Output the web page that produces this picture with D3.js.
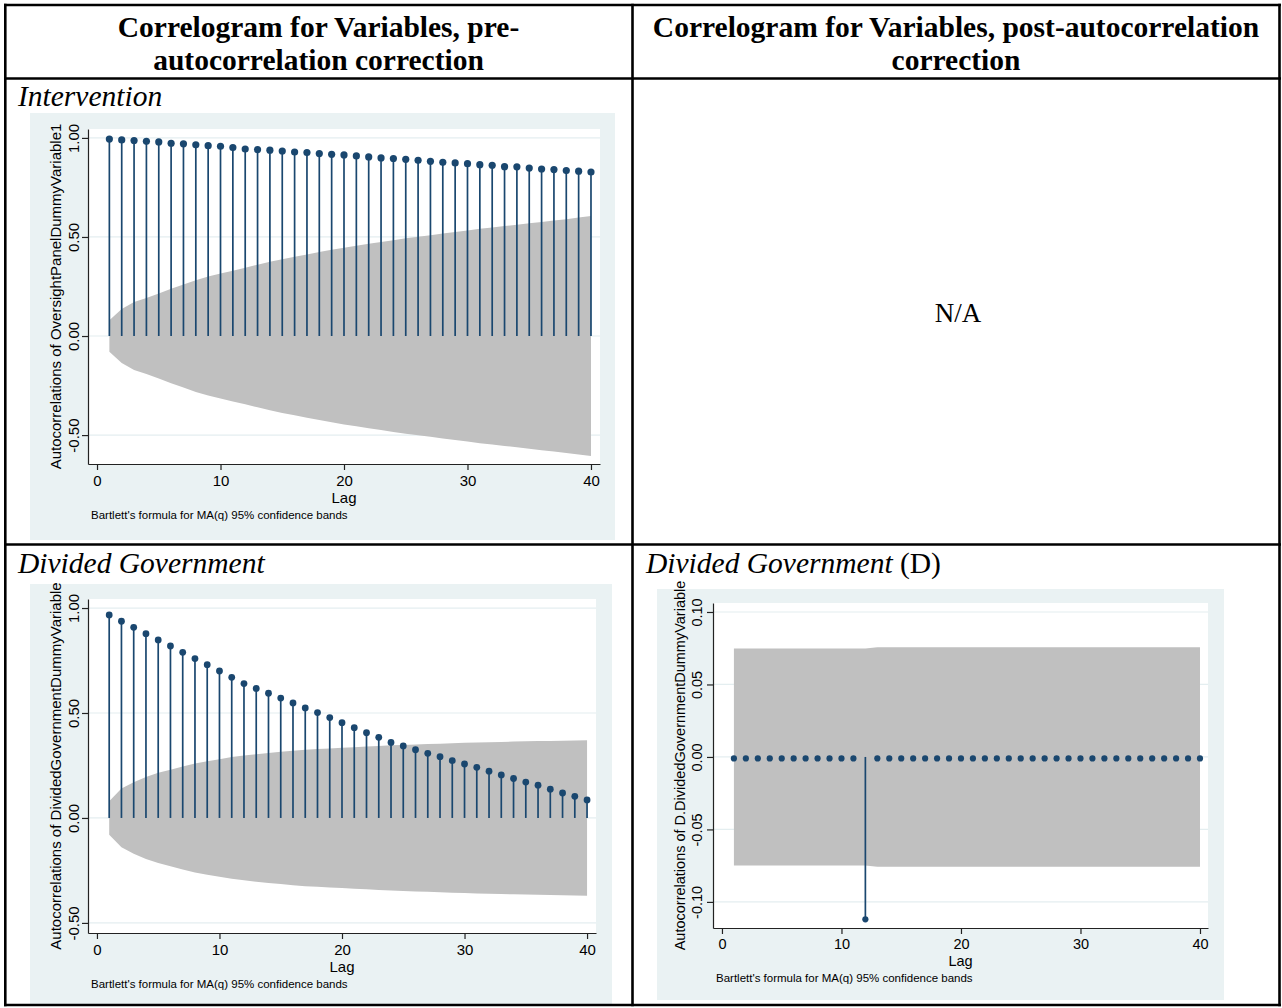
<!DOCTYPE html>
<html>
<head>
<meta charset="utf-8">
<script src="https://cdn.jsdelivr.net/npm/d3@7"></script>
<style>
  body { margin: 0; background: #fff; }
</style>
</head>
<body>
<script>
// lags shown on every correlogram
const lags = d3.range(1, 41);
const xTicks = [0, 10, 20, 30, 40];

// Intervention (OversightPanelDummyVariable1), pre-correction
const interventionAcf = [0.994, 0.990, 0.987, 0.983, 0.980, 0.973, 0.970, 0.965, 0.961, 0.958,
  0.951, 0.944, 0.941, 0.938, 0.934, 0.929, 0.926, 0.921, 0.917, 0.914,
  0.909, 0.904, 0.899, 0.896, 0.892, 0.887, 0.882, 0.877, 0.874, 0.870,
  0.865, 0.862, 0.855, 0.854, 0.848, 0.843, 0.840, 0.835, 0.832, 0.828];
const interventionBand = [0.080, 0.136, 0.172, 0.192, 0.215, 0.238, 0.260, 0.282, 0.300, 0.315,
  0.330, 0.345, 0.360, 0.375, 0.388, 0.400, 0.412, 0.424, 0.435, 0.446,
  0.456, 0.466, 0.475, 0.484, 0.493, 0.501, 0.509, 0.517, 0.525, 0.533,
  0.541, 0.548, 0.555, 0.562, 0.569, 0.576, 0.583, 0.590, 0.598, 0.606];
const interventionTicks = [-0.5, 0, 0.5, 1];

// Divided government, pre-correction
const dividedAcf = [0.967, 0.937, 0.908, 0.878, 0.848, 0.819, 0.789, 0.759, 0.730, 0.700,
  0.670, 0.640, 0.617, 0.594, 0.571, 0.548, 0.524, 0.502, 0.478, 0.454,
  0.430, 0.406, 0.384, 0.360, 0.343, 0.325, 0.308, 0.292, 0.273, 0.257,
  0.241, 0.223, 0.205, 0.188, 0.171, 0.156, 0.137, 0.119, 0.103, 0.086];
const dividedBand = [0.080, 0.140, 0.170, 0.195, 0.215, 0.230, 0.245, 0.260, 0.270, 0.280,
  0.290, 0.297, 0.304, 0.310, 0.315, 0.320, 0.325, 0.328, 0.331, 0.334,
  0.337, 0.340, 0.343, 0.346, 0.348, 0.350, 0.352, 0.354, 0.356, 0.358,
  0.360, 0.361, 0.362, 0.364, 0.365, 0.366, 0.367, 0.368, 0.369, 0.370];
const dividedTicks = [-0.5, 0, 0.5, 1];

// Divided government, first difference
const diffDividedAcf = [-0.001, -0.001, -0.001, -0.001, -0.001, -0.001, -0.001, -0.001, -0.001, -0.001,
  -0.001, -0.112, -0.001, -0.001, -0.001, -0.001, -0.001, -0.001, -0.001, -0.001,
  -0.001, -0.001, -0.001, -0.001, -0.001, -0.001, -0.001, -0.001, -0.001, -0.001,
  -0.001, -0.001, -0.001, -0.001, -0.001, -0.001, -0.001, -0.001, -0.001, -0.001];
const diffDividedBand = [0.0748, 0.0748, 0.0748, 0.0748, 0.0748, 0.0748, 0.0748, 0.0748, 0.0748, 0.0748,
  0.0748, 0.0748, 0.0757, 0.0757, 0.0757, 0.0757, 0.0757, 0.0757, 0.0757, 0.0757,
  0.0757, 0.0757, 0.0757, 0.0757, 0.0757, 0.0757, 0.0757, 0.0757, 0.0757, 0.0757,
  0.0757, 0.0757, 0.0757, 0.0757, 0.0757, 0.0757, 0.0757, 0.0757, 0.0757, 0.0757];
const diffDividedTicks = [-0.1, -0.05, 0, 0.05, 0.1];

const noteText = "Bartlett's formula for MA(q) 95% confidence bands";

const W = 1282, H = 1008;
const serif = "'Liberation Serif','Times New Roman',serif";
const sans = "'Liberation Sans',Arial,sans-serif";
const navy = "#1a476f";

const svg = d3.select("body").append("svg")
  .attr("width", W).attr("height", H);
svg.append("rect").attr("width", W).attr("height", H).attr("fill", "#fff");

// ---- table text ----
const txt = svg.append("g").attr("font-family", serif).attr("fill", "#000");

function serifText(x, y, s, opts) {
  const t = txt.append("text").attr("x", x).attr("y", y)
    .attr("font-size", opts.size || 29.5)
    .attr("text-anchor", opts.anchor || "start")
    .attr("font-weight", opts.bold ? "bold" : null)
    .attr("font-style", opts.italic ? "italic" : null);
  t.text(s);
  return t;
}

serifText(318.5, 37, "Correlogram for Variables, pre-", {bold: true, anchor: "middle"});
serifText(318.5, 70, "autocorrelation correction", {bold: true, anchor: "middle"});
serifText(956, 37, "Correlogram for Variables, post-autocorrelation", {bold: true, anchor: "middle"});
serifText(956, 70, "correction", {bold: true, anchor: "middle"});
serifText(18, 106, "Intervention", {italic: true});
serifText(958, 322, "N/A", {anchor: "middle", size: 27});
serifText(18, 573, "Divided Government", {italic: true});
const dg = serifText(646, 573, "", {});
dg.append("tspan").attr("font-style", "italic").text("Divided Government");
dg.append("tspan").text(" (D)");

// ---- correlograms ----
function correlogram(o) {
  const g = svg.append("g");
  g.append("rect")
    .attr("x", o.panel[0]).attr("y", o.panel[1])
    .attr("width", o.panel[2] - o.panel[0]).attr("height", o.panel[3] - o.panel[1])
    .attr("fill", "#eaf2f3");

  const x = d3.scaleLinear().domain(o.xDomain).range([o.left, o.right]);
  const y = d3.scaleLinear().domain(o.yDomain).range([o.bottom, o.top]);

  g.append("rect")
    .attr("x", o.left).attr("y", o.top)
    .attr("width", o.right - o.left).attr("height", o.bottom - o.top)
    .attr("fill", "#fff");

  // grid
  g.selectAll(".grid").data(o.yTicks).join("line")
    .attr("x1", o.left).attr("x2", o.right)
    .attr("y1", d => y(d)).attr("y2", d => y(d))
    .attr("stroke", "#e4eef0").attr("stroke-width", 1.2);

  // confidence band
  const area = d3.area()
    .x((d, i) => x(lags[i]))
    .y0(d => y(-d))
    .y1(d => y(d));
  g.append("path").datum(o.band)
    .attr("d", area)
    .attr("fill", "#c0c0c0");

  // stems + markers
  g.selectAll(".stem").data(o.acf).join("line")
    .attr("x1", (d, i) => x(lags[i])).attr("x2", (d, i) => x(lags[i]))
    .attr("y1", y(0)).attr("y2", d => y(d))
    .attr("stroke", navy).attr("stroke-width", 1.7);
  g.selectAll(".dot").data(o.acf).join("circle")
    .attr("cx", (d, i) => x(lags[i])).attr("cy", d => y(d))
    .attr("r", o.r)
    .attr("fill", navy);

  // y axis
  const ya = g.append("g").attr("transform", `translate(${o.left},0)`)
    .call(d3.axisLeft(y).tickValues(o.yTicks).tickSize(6).tickSizeOuter(0)
      .tickFormat(d => d.toFixed(2)));
  ya.selectAll(".tick text")
    .attr("transform", "rotate(-90)")
    .attr("x", 0).attr("y", -o.yLabOff).attr("dy", 0)
    .attr("text-anchor", "middle");

  // x axis
  const xa = g.append("g").attr("transform", `translate(0,${o.bottom})`)
    .call(d3.axisBottom(x).tickValues(xTicks).tickSize(6).tickSizeOuter(0).tickPadding(5));

  [ya, xa].forEach(a => {
    a.attr("font-family", sans).attr("font-size", o.font);
    a.selectAll("path, line").attr("stroke", "#222").attr("stroke-width", 1.2);
    a.selectAll("text").attr("fill", "#000");
  });

  g.append("text")
    .attr("transform", `translate(${o.left - o.titleOff},${(o.top + o.bottom) / 2}) rotate(-90)`)
    .attr("text-anchor", "middle")
    .attr("font-family", sans).attr("font-size", o.font)
    .text(o.title);

  g.append("text")
    .attr("x", (o.left + o.right) / 2).attr("y", o.bottom + o.lagOff)
    .attr("text-anchor", "middle")
    .attr("font-family", sans).attr("font-size", o.font)
    .text("Lag");

  g.append("text")
    .attr("x", o.noteX).attr("y", o.bottom + o.noteOff)
    .attr("font-family", sans).attr("font-size", 11.5)
    .text(noteText);
}

correlogram({
  panel: [30, 113, 615, 540],
  left: 88, right: 600, top: 129, bottom: 464,
  xDomain: [-0.73, 40.73], yDomain: [-0.646, 1.045],
  yTicks: interventionTicks, acf: interventionAcf, band: interventionBand,
  r: 3.6, font: 15, yLabOff: 9, titleOff: 27, lagOff: 39, noteOff: 55, noteX: 91,
  title: "Autocorrelations of OversightPanelDummyVariable1"
});

correlogram({
  panel: [30, 584, 612, 1004],
  left: 88, right: 596, top: 599, bottom: 933,
  xDomain: [-0.73, 40.73], yDomain: [-0.548, 1.043],
  yTicks: dividedTicks, acf: dividedAcf, band: dividedBand,
  r: 3.4, font: 15, yLabOff: 9, titleOff: 27, lagOff: 39, noteOff: 55, noteX: 91,
  title: "Autocorrelations of DividedGovernmentDummyVariable"
});

correlogram({
  panel: [657, 589, 1224, 1000],
  left: 713, right: 1208, top: 603, bottom: 928,
  xDomain: [-0.75, 40.67], yDomain: [-0.118, 0.1062],
  yTicks: diffDividedTicks, acf: diffDividedAcf, band: diffDividedBand,
  r: 3.1, font: 14.5, yLabOff: 11, titleOff: 28, lagOff: 38, noteOff: 54, noteX: 716,
  title: "Autocorrelations of D.DividedGovernmentDummyVariable"
});

// ---- table borders ----
const border = svg.append("g").attr("stroke", "#000").attr("stroke-width", 2.6);
const hLines = [5, 78.5, 544.5, 1005];
const vLines = [5.3, 632.5, 1279.5];
border.selectAll(".h").data(hLines).join("line")
  .attr("x1", 4).attr("x2", 1281).attr("y1", d => d).attr("y2", d => d);
border.selectAll(".v").data(vLines).join("line")
  .attr("x1", d => d).attr("x2", d => d).attr("y1", 3.7).attr("y2", 1006.3);
</script>
</body>
</html>
